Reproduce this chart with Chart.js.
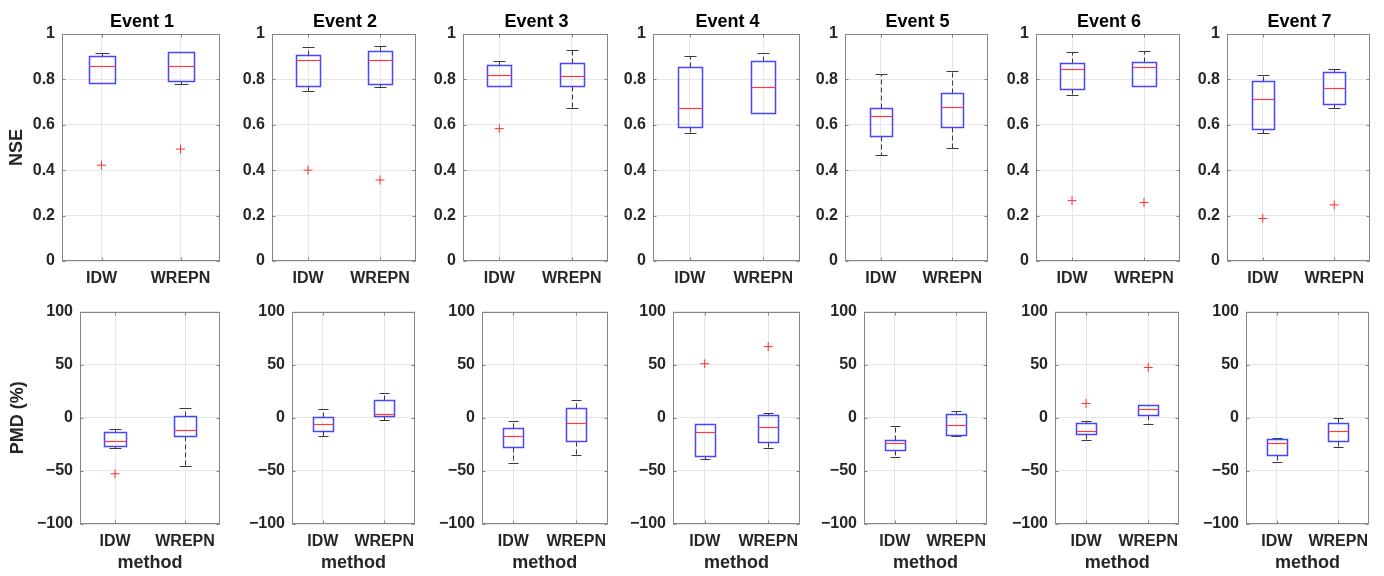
<!DOCTYPE html>
<html>
<head>
<meta charset="utf-8">
<script src="https://cdn.jsdelivr.net/npm/chart.js@4/dist/chart.umd.min.js"></script>
<style>
  body { margin: 0; background: #fff; }
  #wrap { position: relative; width: 1384px; height: 576px; overflow: hidden; }
  canvas { position: absolute; }
</style>
</head>
<body>
<div id="wrap"></div>
<script>
// categories
const events = ['Event 1', 'Event 2', 'Event 3', 'Event 4', 'Event 5', 'Event 6', 'Event 7'];
const methods = ['IDW', 'WREPN'];

// box stats per event: [lower whisker, q1, median, q3, upper whisker]
const nseIDW = [
  [0.782, 0.786, 0.861, 0.903, 0.917],
  [0.750, 0.773, 0.887, 0.909, 0.941],
  [0.770, 0.772, 0.820, 0.865, 0.881],
  [0.565, 0.592, 0.673, 0.855, 0.903],
  [0.467, 0.551, 0.638, 0.673, 0.824],
  [0.731, 0.757, 0.845, 0.873, 0.919],
  [0.565, 0.583, 0.713, 0.792, 0.820]
];
const nseWREPN = [
  [0.780, 0.794, 0.861, 0.919, 0.922],
  [0.767, 0.779, 0.887, 0.925, 0.947],
  [0.676, 0.772, 0.816, 0.874, 0.930],
  [0.652, 0.653, 0.767, 0.880, 0.917],
  [0.499, 0.592, 0.679, 0.741, 0.835],
  [0.772, 0.772, 0.855, 0.878, 0.924],
  [0.676, 0.691, 0.761, 0.833, 0.848]
];
const nseOutIDW = [[0.422], [0.400], [0.583], [], [], [0.266], [0.187]];
const nseOutWREPN = [[0.493], [0.357], [], [], [], [0.258], [0.247]];

const pmdIDW = [
  [-28.5, -26.9, -21.6, -13.8, -11.0],
  [-17.6, -12.6, -5.8, 0.8, 7.9],
  [-42.4, -27.5, -17.6, -9.2, -3.0],
  [-38.7, -35.6, -13.8, -6.1, -5.8],
  [-36.5, -30.6, -23.5, -20.7, -7.9],
  [-21.0, -15.1, -12.9, -4.5, -2.6],
  [-41.2, -35.0, -23.8, -20.1, -18.8]
];
const pmdWREPN = [
  [-45.6, -17.3, -11.7, 2.0, 9.2],
  [-2.0, 1.4, 3.3, 16.6, 22.9],
  [-35.3, -22.2, -5.1, 9.2, 17.0],
  [-28.1, -22.9, -8.2, 2.6, 4.2],
  [-17.3, -16.0, -7.0, 3.9, 6.4],
  [-5.8, 2.3, 8.6, 11.7, 12.0],
  [-27.8, -21.6, -12.0, -4.5, -0.2]
];
const pmdOutIDW = [[-52.7], [], [], [50.9], [], [13.5], []];
const pmdOutWREPN = [[], [], [], [67.0], [], [47.4], []];

const nseTicks = [0, 0.2, 0.4, 0.6, 0.8, 1];
const pmdTicks = [-100, -50, 0, 50, 100];

// panel frame in page pixels (plot area)
const rightEdges = [220, 416, 608, 800, 988, 1180, 1370];
const topLefts = [62, 272, 463, 653, 845, 1036, 1227];
const botLefts = [80, 292, 482, 673, 864, 1055, 1246];

Chart.defaults.font.family = '"Liberation Sans", Arial, sans-serif';
Chart.defaults.color = '#262626';

const boxPlot = {
  id: 'boxPlot',
  afterDatasetsDraw(chart) {
    const ctx = chart.ctx;
    const y = chart.scales.y;
    const ds = chart.data.datasets[0];
    const meta = chart.getDatasetMeta(0);
    ctx.save();
    meta.data.forEach((bar, i) => {
      const s = ds.stats[i];
      const x = Math.round(bar.x) + 0.5;
      const half = Math.round(bar.width / 2);
      const cap = Math.round(half / 2);
      const py = v => Math.round(y.getPixelForValue(v)) + 0.5;
      // whiskers
      ctx.strokeStyle = '#3a3a3a';
      ctx.lineWidth = 1;
      ctx.setLineDash([5, 3]);
      ctx.beginPath();
      ctx.moveTo(x, py(s[3])); ctx.lineTo(x, py(s[4]));
      ctx.moveTo(x, py(s[1])); ctx.lineTo(x, py(s[0]));
      ctx.stroke();
      ctx.setLineDash([]);
      ctx.beginPath();
      ctx.moveTo(x - cap, py(s[4])); ctx.lineTo(x + cap, py(s[4]));
      ctx.moveTo(x - cap, py(s[0])); ctx.lineTo(x + cap, py(s[0]));
      ctx.stroke();
      // box
      ctx.strokeStyle = '#4646ff';
      ctx.lineWidth = 1.5;
      ctx.strokeRect(x - half, py(s[3]), half * 2, py(s[1]) - py(s[3]));
      // median
      ctx.strokeStyle = '#ff3c3c';
      ctx.lineWidth = 1.2;
      ctx.beginPath();
      ctx.moveTo(x - half, py(s[2])); ctx.lineTo(x + half, py(s[2]));
      ctx.stroke();
    });
    ctx.restore();
  },
  afterDraw(chart) {
    const ctx = chart.ctx;
    const a = chart.chartArea;
    const y = chart.scales.y;
    const x = chart.scales.x;
    const l = Math.round(a.left) + 0.5, r = Math.round(a.right) - 0.5;
    const t = Math.round(a.top) + 0.5, b = Math.round(a.bottom) - 0.5;
    ctx.save();
    ctx.strokeStyle = '#858585';
    ctx.lineWidth = 1;
    ctx.strokeRect(l, t, r - l, b - t);
    ctx.beginPath();
    y.ticks.forEach(tk => {
      const p = Math.round(y.getPixelForValue(tk.value)) + 0.5;
      ctx.moveTo(l, p); ctx.lineTo(l + 3, p);
      ctx.moveTo(r, p); ctx.lineTo(r - 3, p);
    });
    methods.forEach((m, i) => {
      const p = Math.round(x.getPixelForValue(i)) + 0.5;
      ctx.moveTo(p, b); ctx.lineTo(p, b - 3);
      ctx.moveTo(p, t); ctx.lineTo(p, t + 3);
    });
    ctx.stroke();
    // panel title centred over the plot area
    const title = chart.options.panelTitle;
    if (title) {
      ctx.fillStyle = '#000';
      ctx.font = 'bold 18px "Liberation Sans", Arial, sans-serif';
      ctx.textAlign = 'center';
      ctx.textBaseline = 'middle';
      ctx.fillText(title, (a.left + a.right) / 2 + 1, 22);
    }
    ctx.restore();
  }
};

const fmt = v => String(+Number(v).toFixed(1)).replace('-', '\u2212');

function makePanel(row, col) {
  const top = row === 0;
  const L = top ? topLefts[col] : botLefts[col];
  const R = rightEdges[col];
  const canvasLeft = col === 0 ? 0 : L - 58;
  const canvasTop = top ? 0 : 295;
  const canvasH = top ? 292 : 281;
  const padRight = 8;
  const yW = L - canvasLeft;
  const xH = top ? 31 : 52;
  const stats = top ? [nseIDW[col], nseWREPN[col]] : [pmdIDW[col], pmdWREPN[col]];
  const outA = top ? nseOutIDW[col] : pmdOutIDW[col];
  const outB = top ? nseOutWREPN[col] : pmdOutWREPN[col];
  const outliers = outA.map(v => ({ x: methods[0], y: v })).concat(outB.map(v => ({ x: methods[1], y: v })));
  const ticks = top ? nseTicks : pmdTicks;

  const cv = document.createElement('canvas');
  cv.width = R + padRight - canvasLeft;
  cv.height = canvasH;
  cv.style.left = canvasLeft + 'px';
  cv.style.top = canvasTop + 'px';
  document.getElementById('wrap').appendChild(cv);

  new Chart(cv, {
    type: 'bar',
    data: {
      labels: methods,
      datasets: [
        {
          data: stats.map(s => [s[1], s[3]]),
          stats: stats,
          backgroundColor: 'rgba(0,0,0,0)',
          borderColor: 'rgba(0,0,0,0)',
          borderWidth: 0,
          barPercentage: 0.32,
          categoryPercentage: 1
        },
        {
          type: 'scatter',
          data: outliers,
          pointStyle: 'cross',
          pointRadius: 4.5,
          borderColor: '#ff3030',
          borderWidth: 1
        }
      ]
    },
    options: {
      responsive: false,
      animation: false,
      panelTitle: top ? events[col] : null,
      layout: { padding: { top: top ? 34 : 14, right: padRight, bottom: 0, left: 0 } },
      plugins: {
        legend: { display: false },
        tooltip: { enabled: false },
        title: { display: false }
      },
      scales: {
        x: {
          type: 'category',
          offset: true,
          grid: { offset: false, color: '#e6e6e6', drawTicks: false },
          border: { display: false },
          ticks: { font: { size: 16, weight: 'bold' }, padding: 8, maxRotation: 0, autoSkip: false },
          title: {
            display: !top,
            text: 'method',
            font: { size: 18, weight: 'bold', lineHeight: 1.2 },
            padding: { top: 0, bottom: 2 }
          },
          afterFit: s => { s.height = xH; }
        },
        y: {
          min: ticks[0],
          max: ticks[ticks.length - 1],
          afterBuildTicks: s => { s.ticks = ticks.map(v => ({ value: v })); },
          grid: { color: '#e6e6e6', drawTicks: false },
          border: { display: false },
          ticks: { font: { size: 16, weight: 'bold' }, padding: 7, callback: fmt },
          title: {
            display: col === 0,
            text: top ? 'NSE' : 'PMD (%)',
            font: { size: 18, weight: 'bold', lineHeight: 1.2 },
            padding: { top: top ? 6 : 7, bottom: 0 }
          },
          afterFit: s => { s.width = yW; }
        }
      }
    },
    plugins: [boxPlot]
  });
}

for (let c = 0; c < 7; c++) {
  makePanel(0, c);
  makePanel(1, c);
}
</script>
</body>
</html>
